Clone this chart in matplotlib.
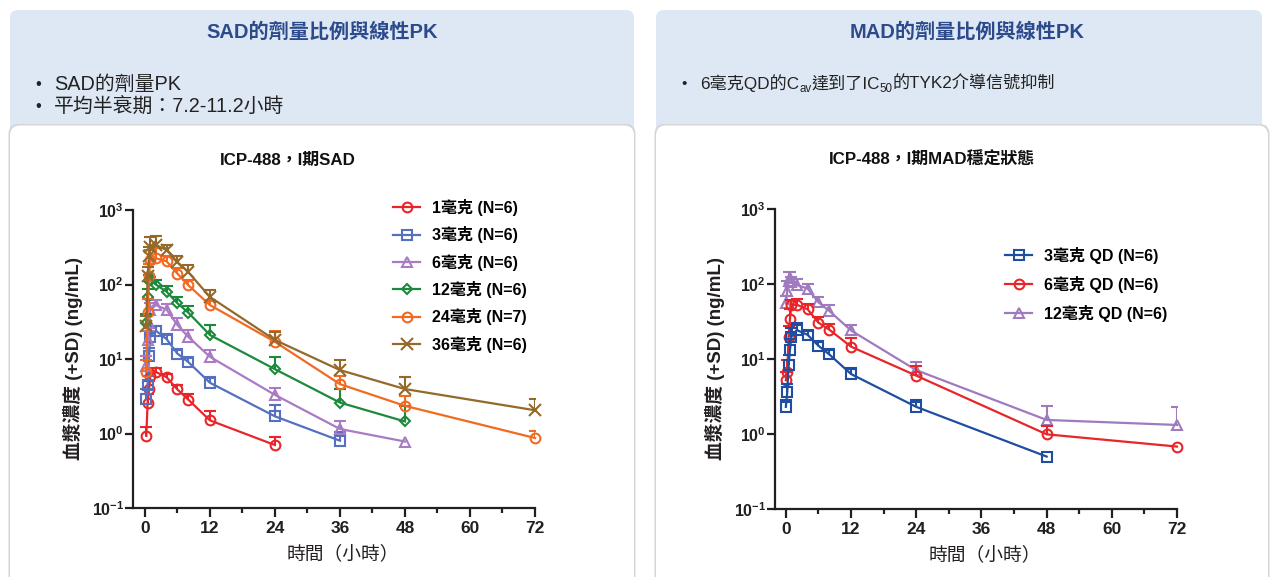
import numpy as np
import matplotlib
matplotlib.use("Agg")
import matplotlib.pyplot as plt
from matplotlib.patches import FancyBboxPatch
from matplotlib.ticker import FixedLocator, NullLocator

plt.rcParams['font.family'] = ['Liberation Sans', 'Noto Sans CJK TC', 'DejaVu Sans']
plt.rcParams['mathtext.fontset'] = 'custom'
plt.rcParams['mathtext.rm'] = 'Liberation Sans'
plt.rcParams['mathtext.bf'] = 'Liberation Sans:bold'

nan = np.nan

# ---------------- data ----------------
SAD_TIME = [0.25, 0.5, 0.75, 1, 2, 4, 6, 8, 12, 24, 36, 48, 72]
SAD_LABELS = ['1毫克 (N=6)', '3毫克 (N=6)', '6毫克 (N=6)', '12毫克 (N=6)',
              '24毫克 (N=7)', '36毫克 (N=6)']
sad_1mg = [0.93, 2.6, 3.9, 6.0, 6.7, 5.7, 3.9, 2.85, 1.5, 0.70, nan, nan, nan]
sad_1mg_sd = [0.3, 0.8, 1.2, 1.0, 0.8, 0.6, 0.6, 0.55, 0.5, 0.2, nan, nan, nan]
sad_3mg = [2.9, 4.5, 11, 20, 24, 18.5, 11.8, 9.1, 4.8, 1.7, 0.80, nan, nan]
sad_3mg_sd = [1.0, 1.5, 3, 6, 4, 2.5, 1.5, 1.2, 0.9, 0.7, 0.25, nan, nan]
sad_6mg = [8, 18, 30, 45, 53, 46, 28.5, 19.8, 10.7, 3.3, 1.15, 0.78, nan]
sad_6mg_sd = [3, 6, 10, 12, 9, 8, 6.5, 4.5, 2.5, 0.8, 0.3, 0, nan]
sad_12mg = [30, 68, 110, 115, 100, 80, 56, 42, 21, 7.3, 2.6, 1.45, nan]
sad_12mg_sd = [10, 20, 25, 10, 15, 15, 12, 10, 8, 3.5, 1.4, 0.9, nan]
sad_24mg = [6.7, 43, 130, 210, 225, 205, 140, 98, 53, 17, 4.6, 2.35, 0.87]
sad_24mg_sd = [3, 20, 60, 80, 80, 40, 25, 17, 8, 7, 1.3, 0.8, 0.2]
sad_36mg = [28, 130, 240, 320, 340, 290, 200, 147, 68, 18, 7.1, 3.95, 2.05]
sad_36mg_sd = [10, 40, 80, 110, 110, 45, 40, 35, 17, 5, 2.6, 1.7, 0.85]

MAD_TIME = [0, 0.25, 0.5, 0.75, 1, 2, 4, 6, 8, 12, 24, 48, 72]
MAD_LABELS = ['3毫克 QD (N=6)', '6毫克 QD (N=6)', '12毫克 QD (N=6)']
mad_3mg = [2.3, 3.6, 8.3, 13.2, 19.8, 24.3, 21, 15, 11.5, 6.3, 2.3, 0.5, nan]
mad_3mg_sd = [0.5, 1, 3, 5, 6, 6, 2.5, 2, 1.5, 1.4, 0.5, 0, nan]
mad_6mg = [5.2, 6.7, 19.8, 34, 52, 53, 46, 30.5, 24.6, 14.6, 6.0, 0.99, 0.68]
mad_6mg_sd = [1.5, 3, 8, 12, 10, 10, 8, 6, 5, 4.5, 2.0, 0.27, 0]
mad_12mg = [55, 80, 110, 120, 105, 97, 87, 57, 43.7, 24, 7.1, 1.54, 1.32]
mad_12mg_sd = [15, 30, 35, 25, 20, 18, 13, 11, 8, 4, 2.1, 0.8, 1.0]

X_TICKS = [0, 12, 24, 36, 48, 60, 72]
Y_TICKS = [0.1, 1, 10, 100, 1000]
Y_TICKLABELS = [r'$\mathbf{10^{-1}}$', r'$\mathbf{10^{0}}$', r'$\mathbf{10^{1}}$',
                r'$\mathbf{10^{2}}$', r'$\mathbf{10^{3}}$']

# ---------------- figure ----------------
W, H = 1272, 577
fig = plt.figure(figsize=(W / 100, H / 100), dpi=100)
fig.patch.set_facecolor('white')

bg = fig.add_axes([0, 0, 1, 1], zorder=-10)
bg.set_xlim(0, W)
bg.set_ylim(H, 0)
bg.axis('off')

HEADER_BG = '#dde8f4'
for x0, w in [(10, 624), (656, 606)]:
    bg.add_patch(FancyBboxPatch((x0, 10), w, 140, boxstyle='round,pad=0,rounding_size=8',
                                fc=HEADER_BG, ec='none'))
for x0, w in [(10, 624), (656, 612)]:
    bg.add_patch(FancyBboxPatch((x0 - 1.5, 124), w + 3, 470, boxstyle='round,pad=0,rounding_size=10',
                                fc='#d6d6d6', ec='none'))
    bg.add_patch(FancyBboxPatch((x0, 125.5), w, 470, boxstyle='round,pad=0,rounding_size=10',
                                fc='white', ec='none'))

TITLE_C = '#2c4a8c'
bg.text(322, 32, 'SAD的劑量比例與線性PK', ha='center', va='center', fontsize=14.5,
        fontweight='bold', color=TITLE_C)
bg.text(967, 32, 'MAD的劑量比例與線性PK', ha='center', va='center', fontsize=14.5,
        fontweight='bold', color=TITLE_C)

TXT_C = '#222222'
bg.text(38, 84, '•', ha='center', va='center', fontsize=12, color=TXT_C)
bg.text(54, 84, 'SAD的劑量PK', ha='left', va='center', fontsize=14.3, color=TXT_C)
bg.text(38, 107, '•', ha='center', va='center', fontsize=12, color=TXT_C)
bg.text(54, 107, '平均半衰期：7.2-11.2小時', ha='left', va='center', fontsize=14.3, color=TXT_C)

# right bullet with subscripts
bg.text(684, 84, '•', ha='center', va='center', fontsize=11, color=TXT_C)
pieces = [('6毫克QD的C', 12.3, 0), ('av', 8.3, 3), ('達到了IC', 12.3, 0), ('50', 8.3, 3),
          ('的TYK2介導信號抑制', 12.3, 0)]
fig.canvas.draw()
renderer = fig.canvas.get_renderer()
xcur = 700
base_y = 89
for s, fs, dy in pieces:
    t = bg.text(xcur, base_y + dy, s, ha='left', va='baseline', fontsize=fs, color=TXT_C)
    ext = t.get_window_extent(renderer)
    xcur = ext.x1

bg.text(288, 160, 'ICP-488，I期SAD', ha='center', va='center', fontsize=12.2,
        fontweight='bold', color='#111111')
bg.text(932, 160, 'ICP-488，I期MAD穩定狀態', ha='center', va='center', fontsize=12.2,
        fontweight='bold', color='#111111')


def px_axes(left, top, right, bottom):
    return [left / W, 1 - bottom / H, (right - left) / W, (bottom - top) / H]


def style_axes(ax, xmin, xcenter_px, left_px, right_px):
    ax.set_yscale('log')
    ax.set_ylim(0.1, 1000)
    ax.set_xlim(xmin, 72)
    for sp in ['top', 'right']:
        ax.spines[sp].set_visible(False)
    for sp in ['left', 'bottom']:
        ax.spines[sp].set_linewidth(1.6)
        ax.spines[sp].set_color('#231f20')
    ax.yaxis.set_major_locator(FixedLocator(Y_TICKS))
    ax.yaxis.set_minor_locator(NullLocator())
    ax.set_yticklabels(Y_TICKLABELS)
    ax.set_xticks(X_TICKS)
    ax.set_xticklabels([str(v) for v in X_TICKS], fontweight='bold')
    ax.xaxis.set_minor_locator(FixedLocator([6, 18, 30, 42, 54, 66]))
    ax.tick_params(axis='x', which='major', length=6.5, width=1.6, labelsize=12.5,
                   pad=3, color='#231f20', labelcolor='#231f20')
    ax.tick_params(axis='x', which='minor', length=3.5, width=1.6, color='#231f20')
    ax.tick_params(axis='y', which='major', length=5.5, width=1.6, labelsize=11.5,
                   pad=1, color='#231f20', labelcolor='#231f20')
    ax.set_ylabel('血漿濃度 (+SD) (ng/mL)', fontsize=13.5, fontweight='bold',
                  color='#231f20')
    ax.yaxis.set_label_coords(-50 / (right_px - left_px), 0.5)
    ax.set_xlabel('時間（小時）', fontsize=13.5, color='#231f20')
    ax.xaxis.set_label_coords((xcenter_px - left_px) / (right_px - left_px), -0.125)
    ax.patch.set_alpha(0)


def draw_series(ax, t, mean, sd, color, marker, label, ms=7, z=3):
    t = np.asarray(t, float)
    mean = np.asarray(mean, float)
    sd = np.asarray(sd, float)
    ok = ~np.isnan(mean)
    ax.plot(t[ok], mean[ok], color=color, lw=1.6, marker=marker, ms=ms, mew=1.5,
            mfc='none', mec=color, label=label, zorder=z, clip_on=False)
    ek = ok & ~np.isnan(sd) & (sd > 0)
    ax.vlines(t[ek], mean[ek], mean[ek] + sd[ek], color=color, lw=1.5, zorder=z)
    ax.plot(t[ek], mean[ek] + sd[ek], ls='none', marker='_', ms=8, mew=1.5,
            color=color, zorder=z)


LEG_PROP = {'size': 11.5, 'weight': 'bold'}

# ---------------- SAD ----------------
axL = fig.add_axes(px_axes(133, 210, 535, 508))
style_axes(axL, -2.2, 343, 133, 535)
SAD_COLORS = ['#e8262a', '#5470be', '#a87bc4', '#1c8a3c', '#f26a22', '#94692a']
SAD_MARKERS = ['o', 's', '^', 'D', 'o', 'x']
SAD_MEANS = [sad_1mg, sad_3mg, sad_6mg, sad_12mg, sad_24mg, sad_36mg]
SAD_SDS = [sad_1mg_sd, sad_3mg_sd, sad_6mg_sd, sad_12mg_sd, sad_24mg_sd, sad_36mg_sd]
for i, (m, s) in enumerate(zip(SAD_MEANS, SAD_SDS)):
    mk = SAD_MARKERS[i]
    draw_series(axL, SAD_TIME, m, s, SAD_COLORS[i], mk, SAD_LABELS[i],
                ms=5.5 if mk == 'D' else (8 if mk == 'x' else 7), z=3 + i)
legL = axL.legend(loc='upper left', bbox_to_anchor=((393 - 133) / 402, (508 - 199) / 298),
                  frameon=False, prop=LEG_PROP,
                  handlelength=1.7, handletextpad=0.75, labelspacing=0.645,
                  borderpad=0, borderaxespad=0)

# ---------------- MAD ----------------
axR = fig.add_axes(px_axes(775, 209, 1177, 509))
style_axes(axR, -2.0, 985, 775, 1177)
MAD_COLORS = ['#1f4ea1', '#e8262a', '#a07abf']
MAD_MARKERS = ['s', 'o', '^']
MAD_MEANS = [mad_3mg, mad_6mg, mad_12mg]
MAD_SDS = [mad_3mg_sd, mad_6mg_sd, mad_12mg_sd]
for i, (m, s) in enumerate(zip(MAD_MEANS, MAD_SDS)):
    draw_series(axR, MAD_TIME, m, s, MAD_COLORS[i], MAD_MARKERS[i], MAD_LABELS[i],
                ms=7, z=5 - i)
legR = axR.legend(loc='upper left', bbox_to_anchor=((1005 - 775) / 402, (509 - 247) / 300),
                  frameon=False, prop=LEG_PROP,
                  handlelength=1.7, handletextpad=0.75, labelspacing=0.75,
                  borderpad=0, borderaxespad=0)

fig.savefig('out.png', dpi=100)
